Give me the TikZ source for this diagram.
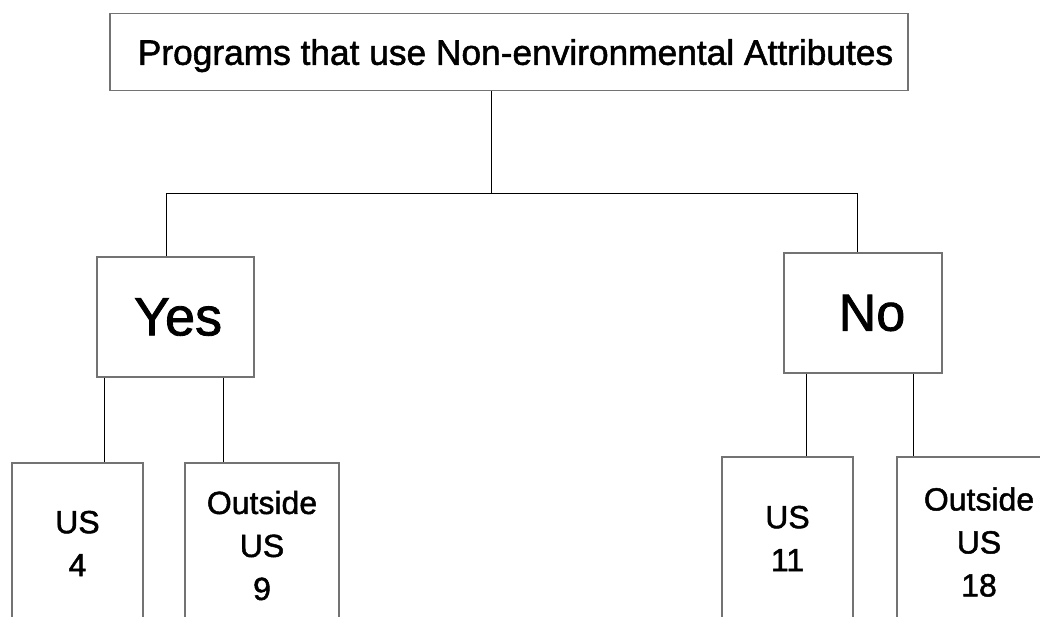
\documentclass[tikz,border=0pt]{standalone}
\usepackage{fontspec}
\setmainfont{Liberation Sans}[UprightFeatures={FakeBold=1.5}]

\begin{document}
\begin{tikzpicture}[x=1pt, y=-1pt,
	box/.style={draw=black!55, line width=1.4pt, inner sep=0pt, align=center},
	leaf/.style={box, font=\fontsize{32}{43}\selectfont},
	link/.style={draw=black, line width=1pt}]
	\useasboundingbox (0,0) rectangle (1040,616);
	\clip (0,0) rectangle (1040,616);
	
	\node[box, minimum width=798pt, minimum height=77pt, text depth=0pt, font=\fontsize{35.3}{40}\selectfont] (top) at (509,52) {\hspace*{13pt}Programs that use Non-environmental Attributes};
	
	\node[box, minimum width=157pt, minimum height=120pt, font=\fontsize{54}{60}\selectfont] (yes) at (175.5,317) {\hspace*{5pt}Yes};
	\node[box, minimum width=158pt, minimum height=120pt, font=\fontsize{52}{60}\selectfont] (no) at (863,313) {\hspace*{18pt}No};
	
	% leaves run off the bottom edge
	\node[leaf, minimum width=131pt, minimum height=161pt] (y1) at (77.5,543.5) {US\\4};
	\node[leaf, minimum width=154pt, minimum height=165pt] (y2) at (262,545.5) {Outside\\US\\9};
	\node[leaf, minimum width=131pt, minimum height=163pt] (n1) at (787.5,538.5) {US\\11};
	\node[leaf, minimum width=164pt, minimum height=170pt] (n2) at (979,542) {Outside\\US\\18};
	
	\coordinate (m) at (491,193);
	\coordinate (l) at (166,193);
	\coordinate (r) at (857,193);
	\coordinate (ya) at (104,0);
	\coordinate (yb) at (223,0);
	\coordinate (na) at (806,0);
	\coordinate (nb) at (913,0);
	
	\draw[link] (top.south -| m) -- (m);
	\draw[link] (yes.north -| l) -- (l) -- (r) -- (no.north -| r);
	
	\draw[link] (yes.south -| ya) -- (y1.north -| ya);
	\draw[link] (yes.south -| yb) -- (y2.north -| yb);
	\draw[link] (no.south -| na) -- (n1.north -| na);
	\draw[link] (no.south -| nb) -- (n2.north -| nb);
\end{tikzpicture}
\end{document}
